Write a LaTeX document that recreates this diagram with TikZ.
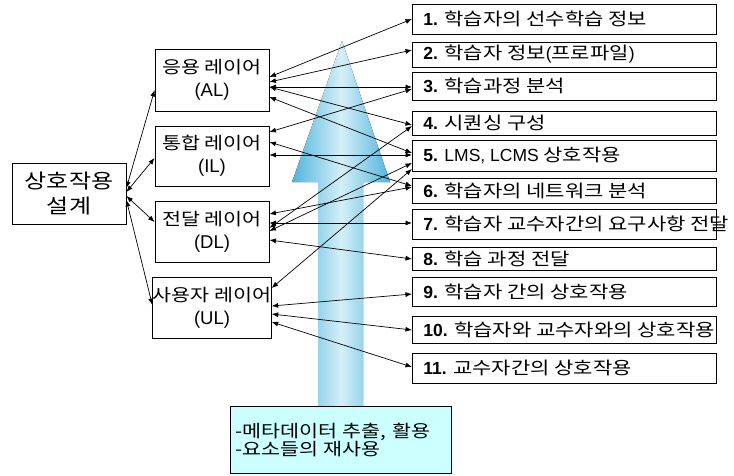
\documentclass[tikz,border=0pt]{standalone}
\usepackage{fontspec}
\setmainfont{Liberation Sans}
\newfontfamily\kr[FakeStretch=1.2]{Noto Sans CJK KR}
\usetikzlibrary{arrows.meta}
\definecolor{arrdark}{RGB}{80,180,220}
\definecolor{arrlight}{RGB}{212,239,248}
\definecolor{notefill}{RGB}{204,255,255}
\begin{document}
\begin{tikzpicture}[x=1pt,y=-1pt,
  box/.style={draw=black, line width=0.8pt, inner sep=0pt, fill=white},
  layer/.style={box, minimum width=114pt, minimum height=61pt, align=center, font=\fontsize{17.2}{23}\selectfont},
  lat/.style={},
  item/.style={box, minimum width=304pt, anchor=west, inner xsep=11pt, inner ysep=0pt, font=\fontsize{17.5}{19}\selectfont},
  link/.style={{Latex[length=6.5pt,width=5pt]}-{Latex[length=6.5pt,width=5pt]}, line width=0.7pt}]
\useasboundingbox (0,0) rectangle (734,475);
% big arrow
\fill[left color=arrdark, right color=arrdark, middle color=arrlight]
  (318,406) -- (318,182) -- (292,182) -- (342,41) -- (390,182) -- (363,182) -- (363,406) -- cycle;
% left box and layers
\node[layer, font=\fontsize{20}{25}\selectfont] (D) at (69,193.5) {{\kr 상호작용}\\{\kr 설계}};
\node[layer, minimum height=62pt] (AL) at (212,80) {{\kr 응용 레이어}\\{\fontsize{18.5}{23}\selectfont (AL)}};
\node[layer, minimum height=60pt] (IL) at (212,156) {{\kr 통합 레이어}\\{\fontsize{18.5}{23}\selectfont (IL)}};
\node[layer] (DL) at (212,231.5) {{\kr 전달 레이어}\\{\fontsize{18.5}{23}\selectfont (DL)}};
\node[layer, fill=none] (UL) at (212,307.5) {{\kr 사용자 레이어}\\{\fontsize{18.5}{23}\selectfont (UL)}};
% right items
\node[item, minimum height=30pt] (B1) at (412,19) {\makebox[282pt][l]{\textbf{1.} {\kr 학습자의 선수학습 정보}}};
\node[item, minimum height=25pt] (B2) at (412,54.5) {\makebox[282pt][l]{\textbf{2.} {\kr 학습자 정보}({\kr 프로파일})}};
\node[item, minimum height=28pt] (B3) at (412,86) {\makebox[282pt][l]{\textbf{3.} {\kr 학습과정 분석}}};
\node[item, minimum height=24pt] (B4) at (412,123) {\makebox[282pt][l]{\textbf{4.} {\kr 시퀀싱 구성}}};
\node[item, minimum height=31pt] (B5) at (412,155.5) {\makebox[282pt][l]{\textbf{5.} LMS, LCMS {\kr 상호작용}}};
\node[item, minimum height=25pt] (B6) at (412,190.5) {\makebox[282pt][l]{\textbf{6.} {\kr 학습자의 네트워크 분석}}};
\node[item, minimum height=30pt] (B7) at (412,224) {\makebox[282pt][l]{\textbf{7.} {\kr 학습자 교수자간의 요구사항 전달}}};
\node[item, minimum height=23pt] (B8) at (412,258.5) {\makebox[282pt][l]{\textbf{8.} {\kr 학습 과정 전달}}};
\node[item, minimum height=29pt] (B9) at (412,291.5) {\makebox[282pt][l]{\textbf{9.} {\kr 학습자 간의 상호작용}}};
\node[item, minimum height=27pt] (B10) at (412,329.5) {\makebox[282pt][l]{\textbf{10.} {\kr 학습자와 교수자와의 상호작용}}};
\node[item, minimum height=30pt] (B11) at (412,368) {\makebox[282pt][l]{\textbf{11.} {\kr 교수자간의 상호작용}}};
% note box
\node[box, fill=notefill, minimum width=221pt, minimum height=67pt, text width=211pt, inner xsep=5pt, align=left,
  font=\fontsize{17.2}{18}\selectfont] (M) at (340.5,439.5) {{\kr -메타데이터 추출, 활용}\\{\kr -요소들의 재사용}};
% links from design box
\draw[link] (D.east |- 0,188) -- (AL.west |- 0,90);
\draw[link] (D.east |- 0,192) -- (IL.west |- 0,158);
\draw[link] (D.east |- 0,196) -- (DL.west |- 0,222);
\draw[link] (D.east |- 0,200) -- (UL.west |- 0,305);
% AL
\draw[link] (AL.east |- 0,77) -- (B1.west |- 0,19);
\draw[link] (AL.east |- 0,82) -- (B2.west |- 0,50);
\draw[link] (AL.east |- 0,87) -- (B3.west |- 0,87);
\draw[link] (AL.east |- 0,87) -- (B4.west |- 0,125);
\draw[link] (AL.east |- 0,97) -- (B5.west |- 0,153);
% IL
\draw[link] (IL.east |- 0,132) -- (B3.west |- 0,89);
\draw[link] (IL.east |- 0,142) -- (B6.west |- 0,186);
\draw[link] (IL.east |- 0,155) -- (B5.west |- 0,155);
% DL
\draw[link] (DL.east |- 0,214) -- (B6.west |- 0,187);
\draw[link] (DL.east |- 0,223) -- (B7.west |- 0,223);
\draw[link] (DL.east |- 0,228) -- (B4.west |- 0,126);
\draw[link] (DL.east |- 0,231) -- (B5.west |- 0,163);
\draw[link] (DL.east |- 0,240) -- (B8.west |- 0,259);
% UL
\draw[link] (UL.east |- 0,288) -- (B5.west |- 0,169);
\draw[link] (UL.east |- 0,306) -- (B9.west |- 0,294);
\draw[link] (UL.east |- 0,314) -- (B10.west |- 0,330);
\draw[link] (UL.east |- 0,322) -- (B11.west |- 0,367);
\end{tikzpicture}
\end{document}
